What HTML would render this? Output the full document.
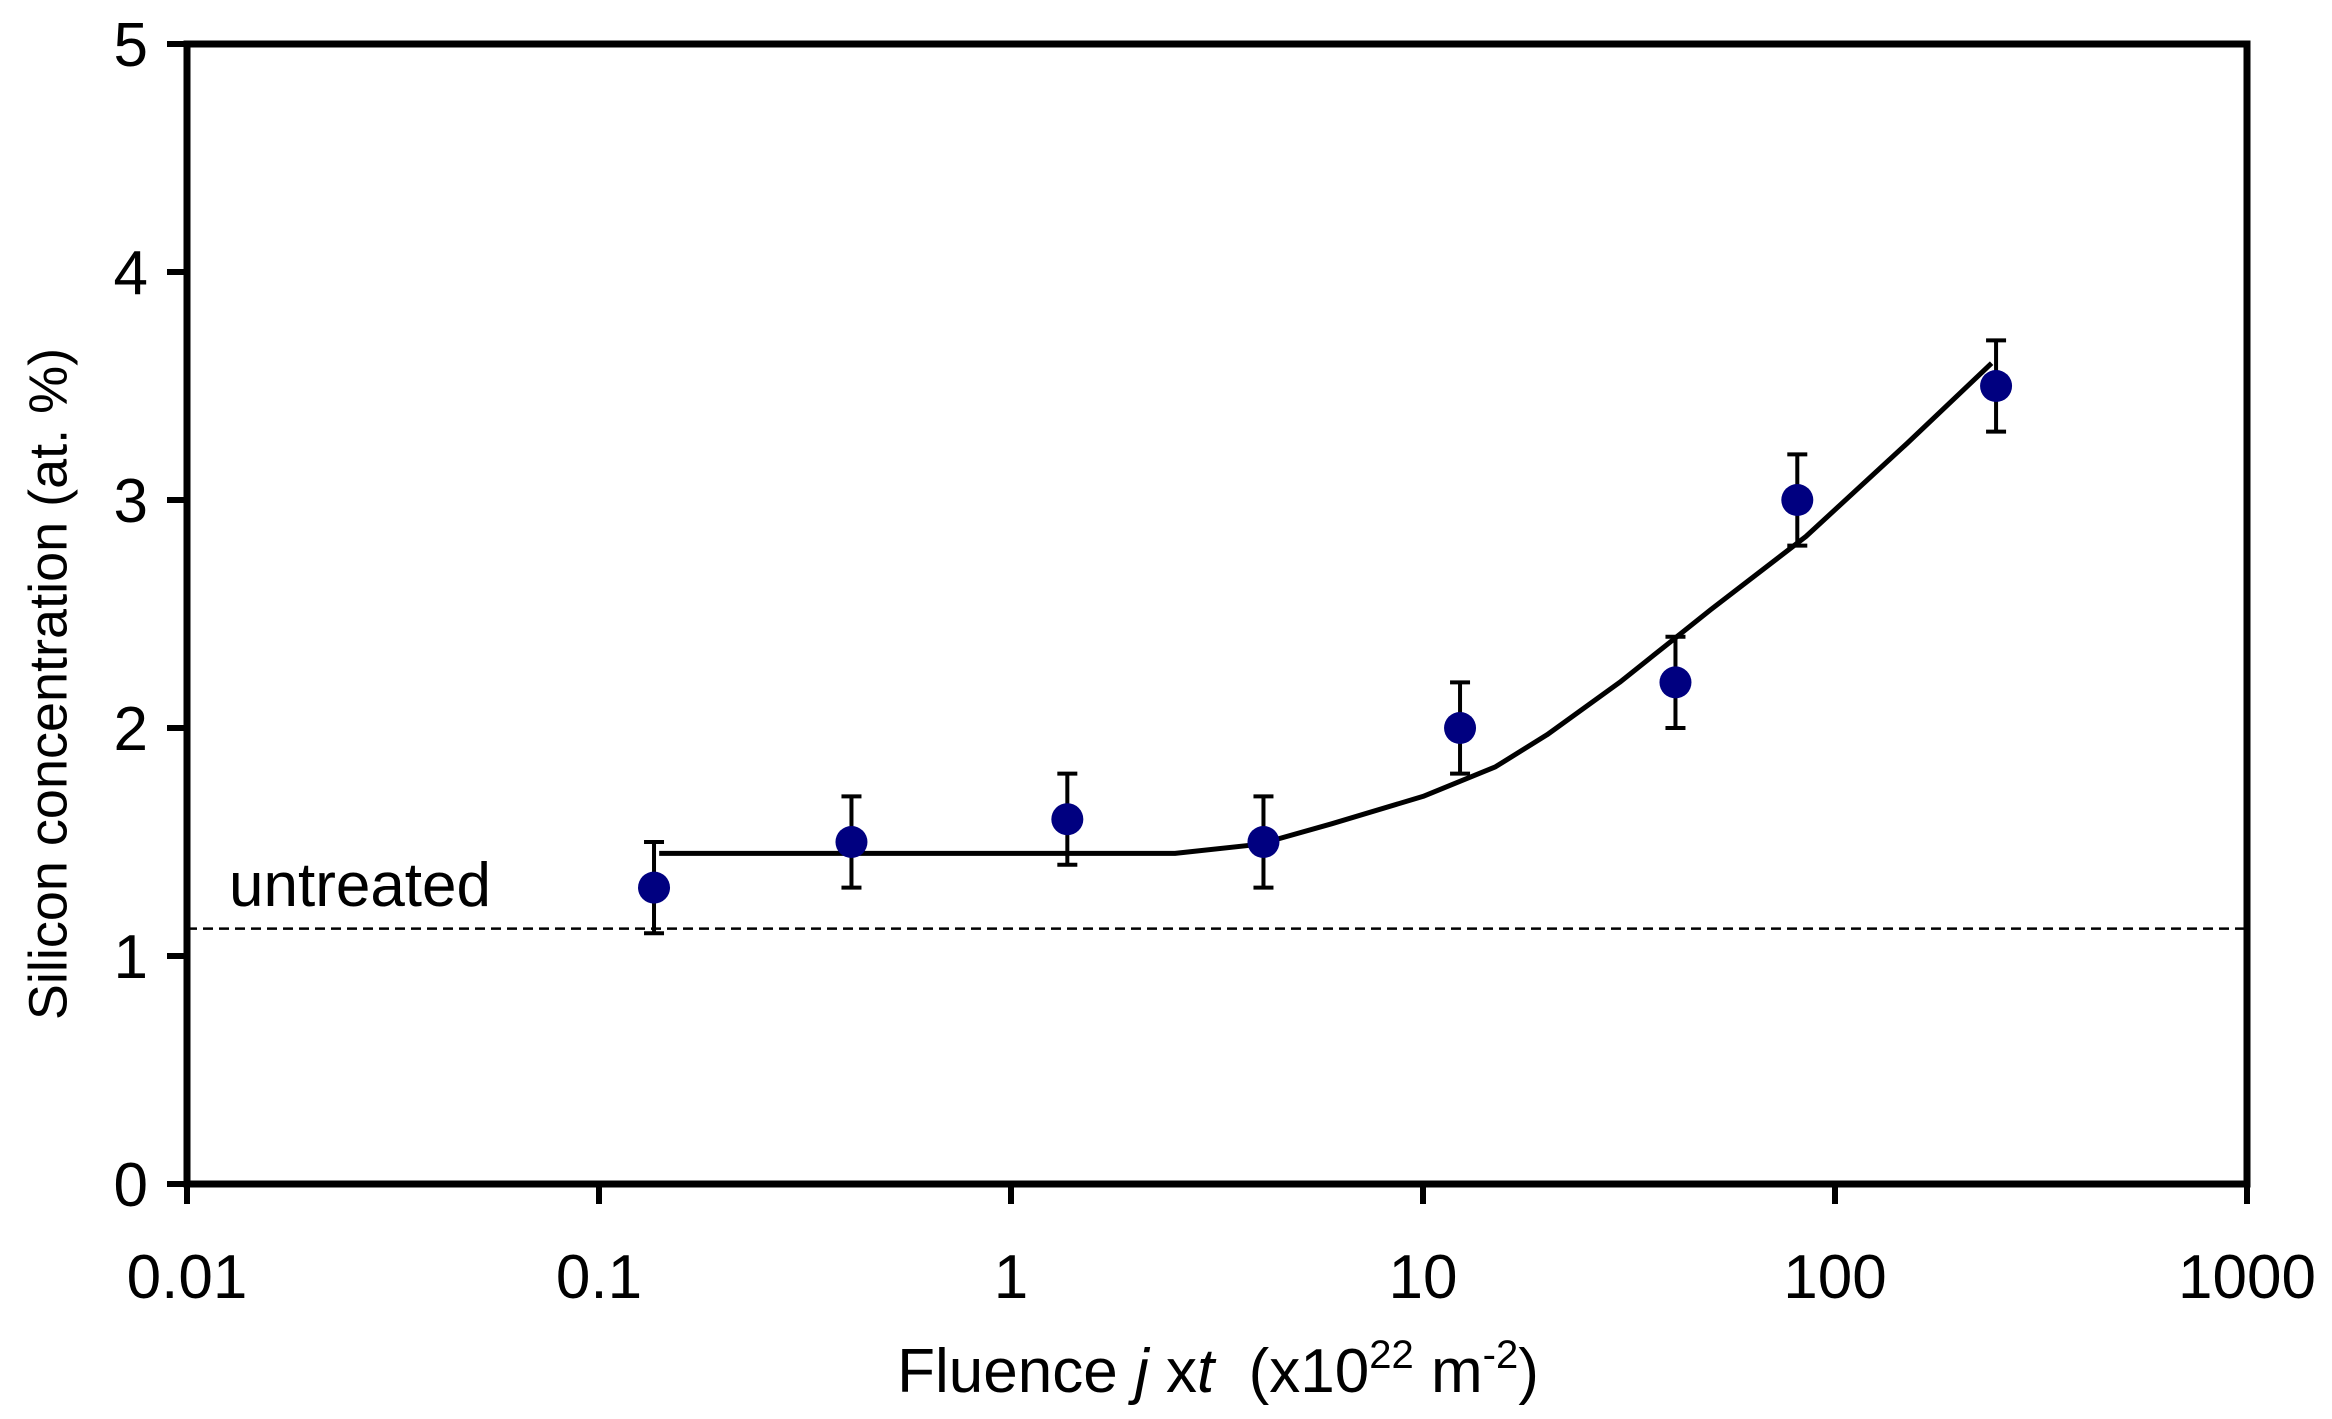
<!DOCTYPE html>
<html><head><meta charset="utf-8"><style>
html,body{margin:0;padding:0;background:#fff;width:2332px;height:1419px;overflow:hidden}
svg text{font-family:"Liberation Sans",sans-serif;fill:#000}
</style></head><body>
<svg id="chart" width="2332" height="1419" xmlns="http://www.w3.org/2000/svg" style="position:absolute;left:0;top:0">
</svg>
<script>
const fluence=[0.136,0.41,1.37,4.1,12.3,41,81,246];
const silicon=[1.3,1.5,1.6,1.5,2.0,2.2,3.0,3.5];
const errors=[0.2,0.2,0.2,0.2,0.2,0.2,0.2,0.2];
const fitX=[0.14,0.5,1,2.5,4,6,10,15,20,30,40,50,85,150,240];
const fitY=[1.45,1.45,1.45,1.45,1.49,1.58,1.7,1.83,1.97,2.2,2.38,2.52,2.84,3.25,3.6];
const untreated=1.12;
const xTicks=[0.01,0.1,1,10,100,1000];
const xTickLabels=["0.01","0.1","1","10","100","1000"];
const yTicks=[0,1,2,3,4,5];
const yTickLabels=["0","1","2","3","4","5"];

const L=187,R=2247,T=44,B=1184;
const xs=v=>L+(Math.log10(v)+2)/5*(R-L);
const ys=v=>B-v/5*(B-T);
const svg=document.getElementById('chart');
const NS='http://www.w3.org/2000/svg';
function mk(tag,attrs,parent){const e=document.createElementNS(NS,tag);for(const k in attrs)e.setAttribute(k,attrs[k]);(parent||svg).appendChild(e);return e;}

let u=mk('line',{x1:L,x2:R,y1:ys(untreated),y2:ys(untreated),stroke:'#000','stroke-width':2.5,'stroke-dasharray':'10,6'});


let ut=mk('text',{x:229,y:906,'font-size':62});
ut.textContent='untreated';



let d=fitX.map((v,i)=>(i?'L':'M')+xs(v).toFixed(1)+','+ys(fitY[i]).toFixed(1)).join(' ');
let fc=mk('path',{d:d,fill:'none',stroke:'#000','stroke-width':5,'stroke-linejoin':'round'});



fluence.forEach((f,i)=>{
  const x=xs(f),y1=ys(silicon[i]-errors[i]),y2=ys(silicon[i]+errors[i]);
  const g=mk('g',{});
  
  
  mk('line',{x1:x,x2:x,y1:y1,y2:y2,stroke:'#000','stroke-width':4},g);
  mk('line',{x1:x-10,x2:x+10,y1:y1,y2:y1,stroke:'#000','stroke-width':4},g);
  mk('line',{x1:x-10,x2:x+10,y1:y2,y2:y2,stroke:'#000','stroke-width':4},g);
});
fluence.forEach((f,i)=>{
  const c=mk('circle',{cx:xs(f),cy:ys(silicon[i]),r:16,fill:'#000080'});
  
  
});

let fr=mk('rect',{x:L,y:T,width:R-L,height:B-T,fill:'none',stroke:'#000','stroke-width':7});



xTicks.forEach((v,i)=>{
  const x=xs(v);
  const t=mk('line',{x1:x,x2:x,y1:B,y2:B+20,stroke:'#000','stroke-width':6});
  
  
  const l=mk('text',{x:x,y:1298,'font-size':62,'text-anchor':'middle'});
  l.textContent=xTickLabels[i];
  
  
});
yTicks.forEach((v,i)=>{
  const y=ys(v);
  const t=mk('line',{x1:L-20,x2:L,y1:y,y2:y,stroke:'#000','stroke-width':6});
  
  
  const l=mk('text',{x:148,y:y+22,'font-size':62,'text-anchor':'end'});
  l.textContent=yTickLabels[i];
  
  
});
</script>
<svg style="position:absolute;left:0;top:0" width="2332" height="1419" xmlns="http://www.w3.org/2000/svg">
<text x="1218" y="1392" font-size="62" text-anchor="middle" xml:space="preserve">Fluence <tspan font-style="italic">j</tspan> x<tspan font-style="italic">t</tspan>  (x10<tspan dy="-24" font-size="40">22</tspan><tspan dy="24"> m</tspan><tspan dy="-24" font-size="40">-2</tspan><tspan dy="24">)</tspan></text>
<text transform="translate(52,684) rotate(-90)" font-size="54" text-anchor="middle" dominant-baseline="middle">Silicon concentration (at. %)</text>
</svg>
</body></html>
